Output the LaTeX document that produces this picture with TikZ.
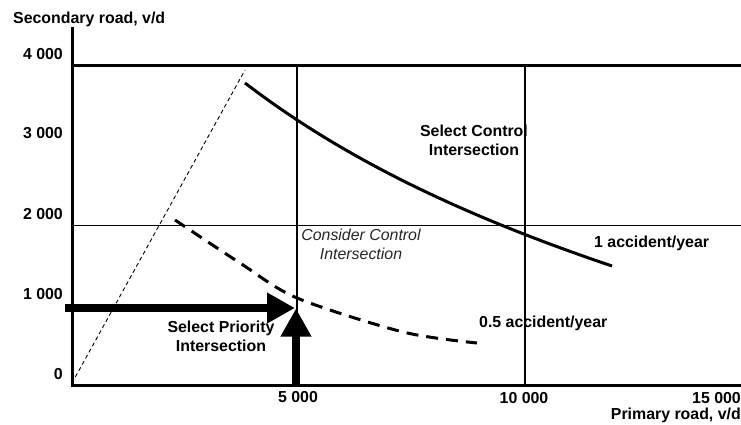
\documentclass[tikz,border=0pt]{standalone}
\usepackage{fontspec}
\setmainfont{Liberation Sans}
\usetikzlibrary{arrows.meta}
\begin{document}
\begin{tikzpicture}[x=1pt,y=-1pt,
  lbl/.style={font=\fontsize{15.9}{19}\selectfont\bfseries, inner sep=0pt},
  ilbl/.style={font=\fontsize{15.9}{19}\selectfont\itshape, inner sep=0pt, text=black!85},
  axis/.style={line width=3pt},
  grid/.style={line width=2.4pt},
  thingrid/.style={line width=1.2pt},
  bigarrow/.style={line width=8pt, -{Triangle[length=28pt,width=29pt]}},
  guide/.style={line width=0.9pt, dash pattern=on 4pt off 3pt},
  curveA/.style={line width=3pt},
  curveB/.style={line width=3pt, dash pattern=on 12pt off 8pt}]
\useasboundingbox (0,0) rectangle (741,425);
% axes
\coordinate (ytop) at (72,27);
\coordinate (orig) at (72,385);
\coordinate (xend) at (741,385);
\draw[axis] (ytop) -- (72,386.5);
\draw[axis] (70.5,385) -- (xend);
% grid lines
\coordinate (g4l) at (72,65.5);
\coordinate (g4r) at (741,65.5);
\coordinate (g2l) at (72,225.5);
\coordinate (g2r) at (741,225.5);
\coordinate (v5t) at (297,65.5);
\coordinate (v5b) at (297,385);
\coordinate (v10t) at (525,65.5);
\coordinate (v10b) at (525,385);
\draw[grid] (g4l) -- (g4r);
\draw[thingrid] (g2l) -- (g2r);
\draw[grid] (v5t) -- (v5b);
\draw[grid] (v10t) -- (v10b);
% axis titles and ticks
\node[lbl, anchor=base west] (ytitle) at (13,24) {Secondary road, v/d};
\node[lbl, anchor=base east] (y4) at (63,60) {4 000};
\node[lbl, anchor=base east] (y3) at (63,139) {3 000};
\node[lbl, anchor=base east] (y2) at (63,219) {2 000};
\node[lbl, anchor=base east] (y1) at (63,299) {1 000};
\node[lbl, anchor=base east] (y0) at (63,379) {0};
\node[lbl, anchor=base] (x5) at (298,402) {5 000};
\node[lbl, anchor=base] (x10) at (524,403) {10 000};
\node[lbl, anchor=base east] (x15) at (741,403) {15 000};
\node[lbl, anchor=base east] (xtitle) at (741,419) {Primary road, v/d};
% thin dashed guide
\coordinate (gd0) at (72,383);
\coordinate (gd1) at (245,70);
\draw[guide] (gd0) -- (gd1);
% curves
\draw[curveA] (245,83) .. controls (330,148) and (440,208) .. (612,266);
\draw[curveB] plot[smooth] coordinates {(175,220) (240,263) (297,298) (403,332) (477,343)};
% arrows
\coordinate (ha0) at (65,308);
\coordinate (ha1) at (295,308);
\coordinate (va0) at (296,387);
\coordinate (va1) at (296,308.5);
\draw[bigarrow] (ha0) -- (ha1);
\draw[bigarrow] (va0) -- (va1);
% region labels
\node[lbl, align=center] (selctl) at (474,140) {Select Control\\Intersection};
\node[ilbl, align=center] (consctl) at (361,244) {Consider Control\\Intersection};
\node[lbl, align=center] (selpri) at (221,336) {Select Priority\\Intersection};
\node[lbl, anchor=base west] (one) at (594,247) {1 accident/year};
\node[lbl, anchor=base west] (half) at (479,327) {0.5 accident/year};
\end{tikzpicture}
\end{document}
